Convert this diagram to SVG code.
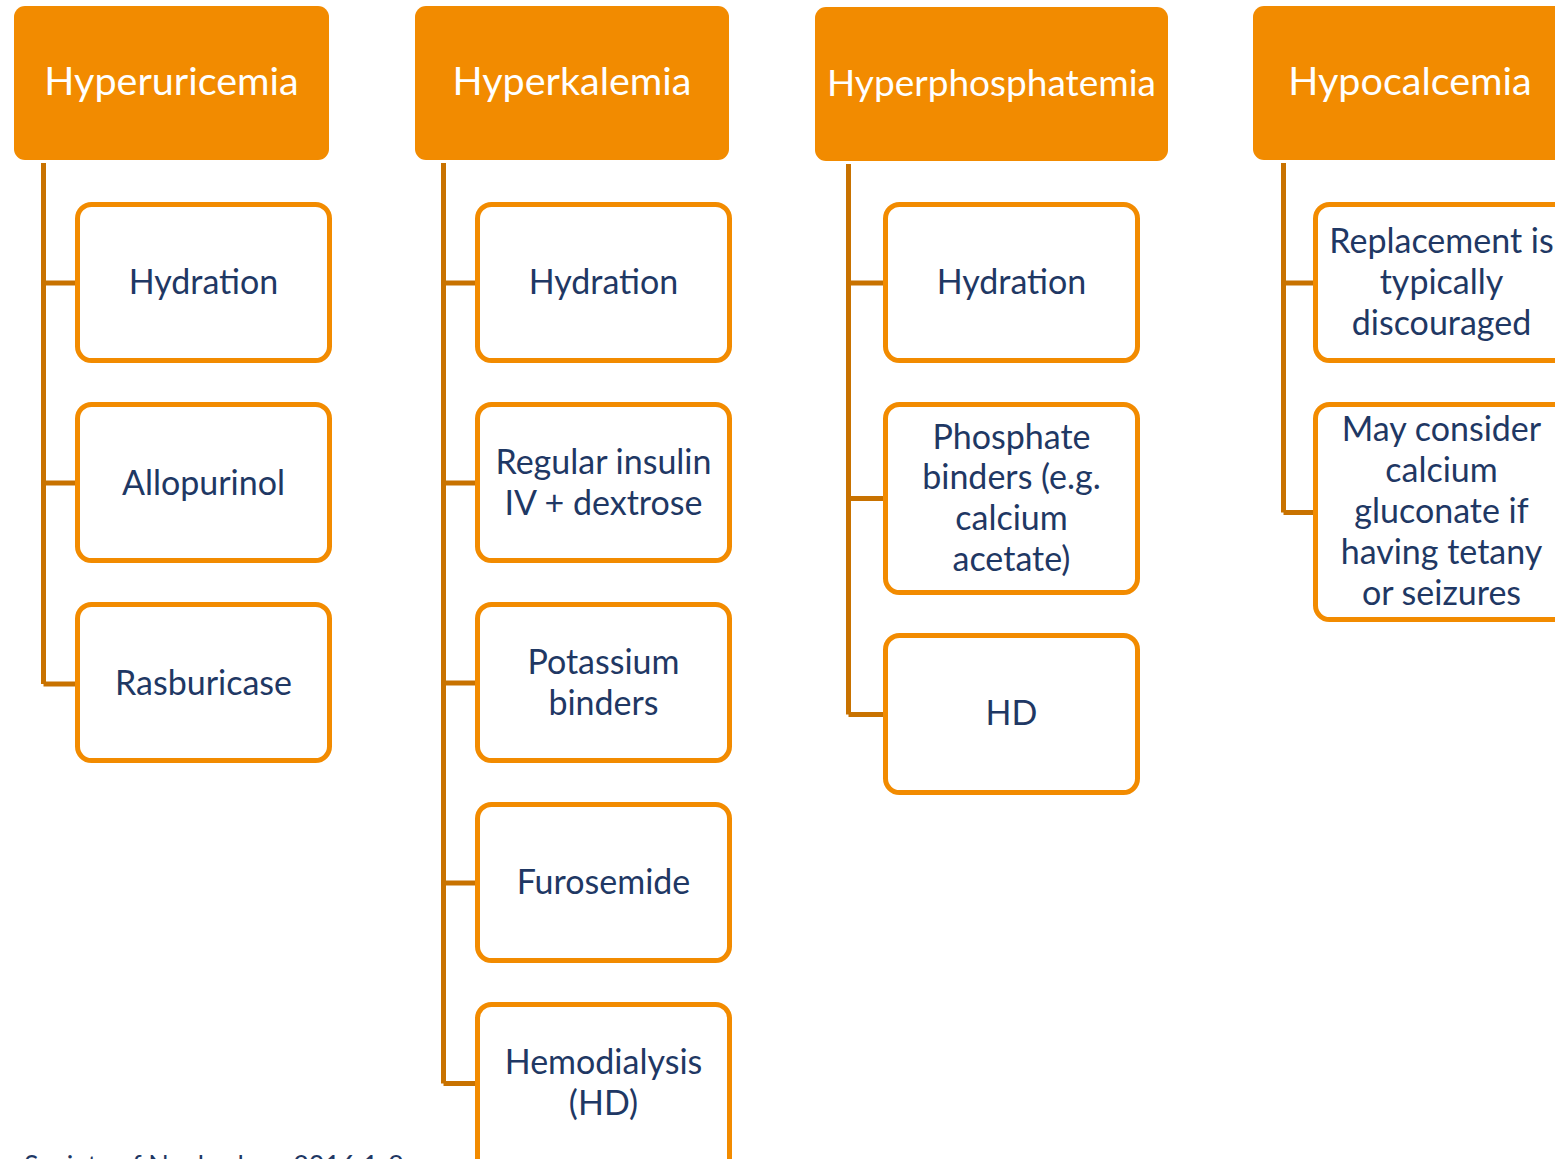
<svg xmlns="http://www.w3.org/2000/svg" width="1555" height="1159" viewBox="0 0 1555 1159">
<style>
.hdr{fill:#F28B00;}
.hdr-t{font-family:Lato,"Liberation Sans",sans-serif;font-size:39.5px;fill:#ffffff;text-anchor:middle;}
.box{fill:#ffffff;stroke:#F28B00;stroke-width:5;}
.box-t{font-family:Lato,"Liberation Sans",sans-serif;font-size:34px;fill:#1F3864;text-anchor:middle;}
.conn{fill:none;stroke:#C87200;stroke-width:5;stroke-linejoin:miter;}
.foot{font-family:Lato,"Liberation Sans",sans-serif;font-size:27px;fill:#1F3864;}
</style>
<rect width="1555" height="1159" fill="#ffffff"/>
<g id="connectors">
<path class="conn" d="M43.5,163 V684 M43.5,283 H77 M43.5,483 H77 M43.5,684 H77"/>
<path class="conn" d="M443.5,163 V1083.5 M443.5,283 H477 M443.5,483 H477 M443.5,683 H477 M443.5,883 H477 M443.5,1083.5 H477"/>
<path class="conn" d="M848.5,164 V714.5 M848.5,283 H885 M848.5,498.5 H885 M848.5,714.5 H885"/>
<path class="conn" d="M1283.5,163 V512.5 M1283.5,283 H1315 M1283.5,512.5 H1315"/>
</g>
<g id="hdr-hyperuricemia"><rect class="hdr" x="14" y="6" width="315" height="154" rx="11"/><text class="hdr-t" x="171.5" y="95">Hyperuricemia</text></g>
<g id="hdr-hyperkalemia"><rect class="hdr" x="415" y="6" width="314" height="154" rx="11"/><text class="hdr-t" x="572" y="95">Hyperkalemia</text></g>
<g id="hdr-hyperphosphatemia"><rect class="hdr" x="815" y="7" width="353" height="154" rx="11"/><text class="hdr-t" x="991.5" y="96" style="font-size:37px">Hyperphosphatemia</text></g>
<g id="hdr-hypocalcemia"><rect class="hdr" x="1253" y="6" width="315" height="154" rx="11"/><text class="hdr-t" x="1410" y="95">Hypocalcemia</text></g>

<g id="c1-hydration"><rect class="box" x="77.5" y="204.5" width="252" height="156" rx="14"/><text class="box-t" x="203.5" y="294">Hydration</text></g>
<g id="c1-allopurinol"><rect class="box" x="77.5" y="404.5" width="252" height="156" rx="14"/><text class="box-t" x="203.5" y="495">Allopurinol</text></g>
<g id="c1-rasburicase"><rect class="box" x="77.5" y="604.5" width="252" height="156" rx="14"/><text class="box-t" x="203.5" y="695">Rasburicase</text></g>

<g id="c2-hydration"><rect class="box" x="477.5" y="204.5" width="252" height="156" rx="14"/><text class="box-t" x="603.5" y="294">Hydration</text></g>
<g id="c2-insulin"><rect class="box" x="477.5" y="404.5" width="252" height="156" rx="14"/><text class="box-t" x="603.5" y="474">Regular insulin</text><text class="box-t" x="603.5" y="515">IV + dextrose</text></g>
<g id="c2-potassium"><rect class="box" x="477.5" y="604.5" width="252" height="156" rx="14"/><text class="box-t" x="603.5" y="674">Potassium</text><text class="box-t" x="603.5" y="715">binders</text></g>
<g id="c2-furosemide"><rect class="box" x="477.5" y="804.5" width="252" height="156" rx="14"/><text class="box-t" x="603.5" y="894">Furosemide</text></g>
<g id="c2-hemodialysis"><rect class="box" x="477.5" y="1004.5" width="252" height="170" rx="14"/><text class="box-t" x="603.5" y="1074">Hemodialysis</text><text class="box-t" x="603.5" y="1115">(HD)</text></g>

<g id="c3-hydration"><rect class="box" x="885.5" y="204.5" width="252" height="156" rx="14"/><text class="box-t" x="1011.5" y="294">Hydration</text></g>
<g id="c3-binders"><rect class="box" x="885.5" y="404.5" width="252" height="188" rx="14"/><text class="box-t" x="1011.5" y="449">Phosphate</text><text class="box-t" x="1011.5" y="489">binders (e.g.</text><text class="box-t" x="1011.5" y="530">calcium</text><text class="box-t" x="1011.5" y="571">acetate)</text></g>
<g id="c3-hd"><rect class="box" x="885.5" y="635.5" width="252" height="157" rx="14"/><text class="box-t" x="1011.5" y="725">HD</text></g>

<g id="c4-replacement"><rect class="box" x="1315.5" y="204.5" width="252" height="156" rx="14"/><text class="box-t" x="1441.5" y="253">Replacement is</text><text class="box-t" x="1441.5" y="294">typically</text><text class="box-t" x="1441.5" y="335">discouraged</text></g>
<g id="c4-gluconate"><rect class="box" x="1315.5" y="404.5" width="252" height="215" rx="14"/><text class="box-t" x="1441.5" y="441">May consider</text><text class="box-t" x="1441.5" y="482">calcium</text><text class="box-t" x="1441.5" y="523">gluconate if</text><text class="box-t" x="1441.5" y="564">having tetany</text><text class="box-t" x="1441.5" y="605">or seizures</text></g>

<text class="foot" x="24" y="1175">Society of Nephrology 2016:1-9</text>
</svg>
